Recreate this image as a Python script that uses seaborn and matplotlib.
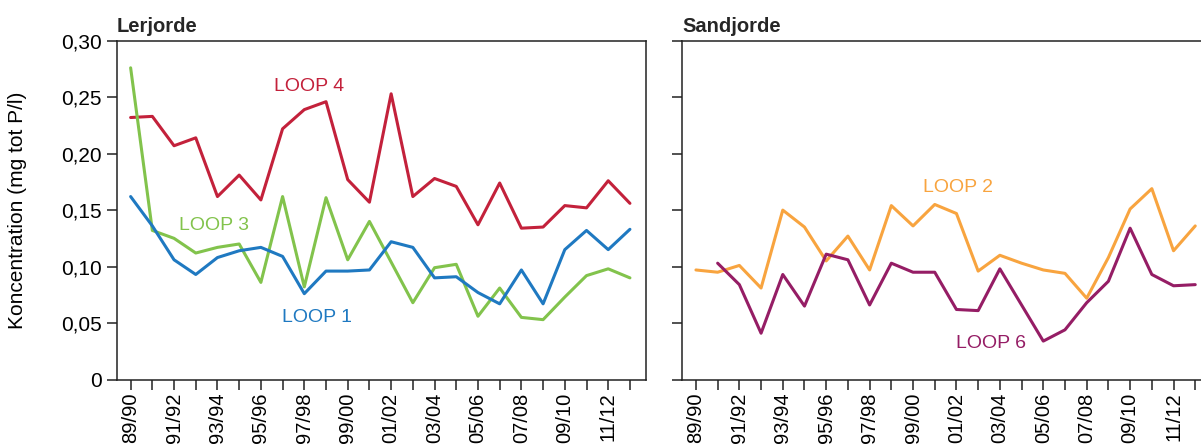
import matplotlib
matplotlib.use("Agg")
import matplotlib.pyplot as plt
import seaborn as sns
import pandas as pd
import numpy as np

seasons = ["89/90", "90/91", "91/92", "92/93", "93/94", "94/95", "95/96", "96/97",
           "97/98", "98/99", "99/00", "00/01", "01/02", "02/03", "03/04", "04/05",
           "05/06", "06/07", "07/08", "08/09", "09/10", "10/11", "11/12", "12/13"]

loop1 = [0.162, 0.136, 0.106, 0.093, 0.108, 0.114, 0.117, 0.109, 0.076, 0.096, 0.096, 0.097,
         0.122, 0.117, 0.090, 0.091, 0.077, 0.067, 0.097, 0.067, 0.115, 0.132, 0.115, 0.133]
loop3 = [0.276, 0.132, 0.125, 0.112, 0.117, 0.120, 0.086, 0.162, 0.082, 0.161, 0.106, 0.140,
         0.104, 0.068, 0.099, 0.102, 0.056, 0.081, 0.055, 0.053, 0.073, 0.092, 0.098, 0.090]
loop4 = [0.232, 0.233, 0.207, 0.214, 0.162, 0.181, 0.159, 0.222, 0.239, 0.246, 0.177, 0.157,
         0.253, 0.162, 0.178, 0.171, 0.137, 0.174, 0.134, 0.135, 0.154, 0.152, 0.176, 0.156]
loop2 = [0.097, 0.095, 0.101, 0.081, 0.150, 0.135, 0.105, 0.127, 0.097, 0.154, 0.136, 0.155,
         0.147, 0.096, 0.110, 0.103, 0.097, 0.094, 0.072, 0.108, 0.151, 0.169, 0.114, 0.136]
loop6 = [np.nan, 0.103, 0.084, 0.041, 0.093, 0.065, 0.111, 0.106, 0.066, 0.103, 0.095, 0.095,
         0.062, 0.061, 0.098, 0.066, 0.034, 0.044, 0.068, 0.087, 0.134, 0.093, 0.083, 0.084]

yticks = [0, 0.05, 0.10, 0.15, 0.20, 0.25, 0.30]
ytick_labels = ["0", "0,05", "0,10", "0,15", "0,20", "0,25", "0,30"]

colors = {"LOOP 1": "#1f79c1", "LOOP 3": "#82c34c", "LOOP 4": "#c3213b",
          "LOOP 2": "#f8a43f", "LOOP 6": "#951d65"}

sns.set_style("ticks")
plt.rcParams["font.family"] = ["Liberation Sans", "DejaVu Sans"]

def long_df(series):
    rows = []
    for name, vals in series.items():
        for s, v in zip(seasons, vals):
            rows.append({"season": s, "value": v, "loop": name})
    df = pd.DataFrame(rows)
    df["season"] = pd.Categorical(df["season"], categories=seasons, ordered=True)
    df["x"] = df["season"].cat.codes
    return df.dropna()

left_df = long_df({"LOOP 4": loop4, "LOOP 3": loop3, "LOOP 1": loop1})
right_df = long_df({"LOOP 2": loop2, "LOOP 6": loop6})

fig = plt.figure(figsize=(12.01, 4.46), dpi=100)
axL = fig.add_axes([0.0972, 0.1491, 0.4405, 0.7596])
axR = fig.add_axes([0.5679, 0.1491, 0.4405, 0.7596])

for ax, df, title in [(axL, left_df, "Lerjorde"), (axR, right_df, "Sandjorde")]:
    sns.lineplot(data=df, x="x", y="value", hue="loop", palette=colors,
                 linewidth=2.2, ax=ax, legend=False, sort=True)
    ax.set_xlim(-0.64, 23.73)
    ax.set_ylim(0, 0.30)
    ax.set_xticks(range(len(seasons)))
    ax.set_xticklabels([s if i % 2 == 0 else "" for i, s in enumerate(seasons)],
                       rotation=90, fontsize=14.5)
    ax.set_yticks(yticks)
    ax.tick_params(axis="both", direction="out", length=7.5, width=1.1,
                   color="#222222", labelcolor="black")
    ax.tick_params(axis="x", pad=2)
    for sp in ax.spines.values():
        sp.set_linewidth(1.1)
        sp.set_color("#222222")
    ax.set_xlabel("")
    ax.set_ylabel("")
    ax.set_title(title, loc="left", fontsize=14.5, fontweight="bold", pad=6)

axL.set_yticklabels(ytick_labels, fontsize=15)
axR.set_yticklabels([])

label_pos = [(axL, "LOOP 4", 8.22, 0.2559), (axL, "LOOP 3", 3.82, 0.1324),
             (axL, "LOOP 1", 8.59, 0.0506), (axR, "LOOP 2", 12.07, 0.1662),
             (axR, "LOOP 6", 13.6, 0.0280)]
for ax, name, x, y in label_pos:
    ax.text(x, y, name, color=colors[name], fontsize=14, ha="center", va="baseline")

fig.text(18 / 1201, 0.529, "Koncentration (mg tot P/l)", rotation=90,
         ha="center", va="center", fontsize=15, color="black")

fig.savefig("out.png", dpi=100)
